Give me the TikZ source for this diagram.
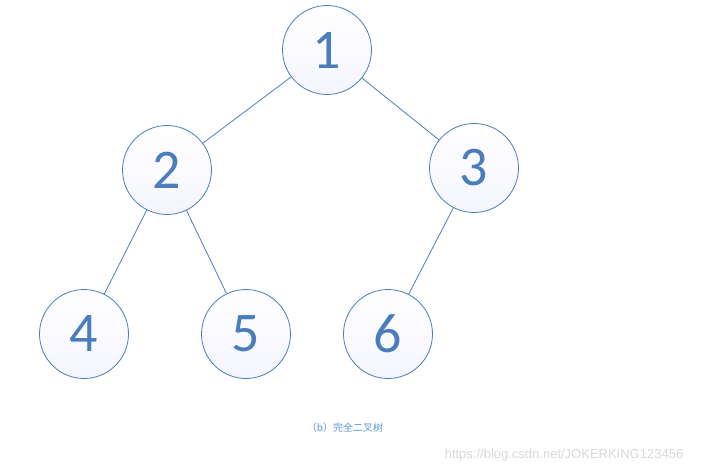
\documentclass[tikz,border=0pt]{standalone}
\usepackage{fontspec}
\setmainfont{Carlito}
\newfontfamily\cjk{Noto Sans CJK SC}
\newfontfamily\wmfont{Liberation Sans}
\definecolor{nodeblue}{HTML}{4A7EBB}
\definecolor{capblue}{HTML}{5B9BD5}
\tikzset{
    treenode/.style={circle, draw=nodeblue, line width=0.8pt, minimum size=89pt,
        inner sep=0pt, top color=white, bottom color=blue!4,
        text=nodeblue, font=\fontsize{56}{56}\selectfont},
    edge/.style={draw=nodeblue, line width=0.8pt}
}
\begin{document}
\begin{tikzpicture}[x=1pt,y=-1pt]
        \useasboundingbox (0,0) rectangle (701,473);
        \fill[white] (0,0) rectangle (701,473);

        \node[treenode] (n1) at (327,50) {1};
        \node[treenode] (n2) at (167,170) {2};
        \node[treenode] (n3) at (474,168) {3};
        \node[treenode] (n4) at (84,334) {4};
        \node[treenode] (n5) at (246,334) {5};
        \node[treenode] (n6) at (388,334) {6};

        \draw[edge] (n1) -- (n2);
        \draw[edge] (n1) -- (n3);
        \draw[edge] (n2) -- (n4);
        \draw[edge] (n2) -- (n5);
        \draw[edge] (n3) -- (n6);

        \node[text=capblue, font=\cjk\fontsize{10}{10}\selectfont] (cap) at (345,428) {（b）完全二叉树};
        \node[text=black!15, font=\wmfont\fontsize{13}{13}\selectfont] (wm) at (564,455) {https://blog.csdn.net/JOKERKING123456};
\end{tikzpicture}
\end{document}
